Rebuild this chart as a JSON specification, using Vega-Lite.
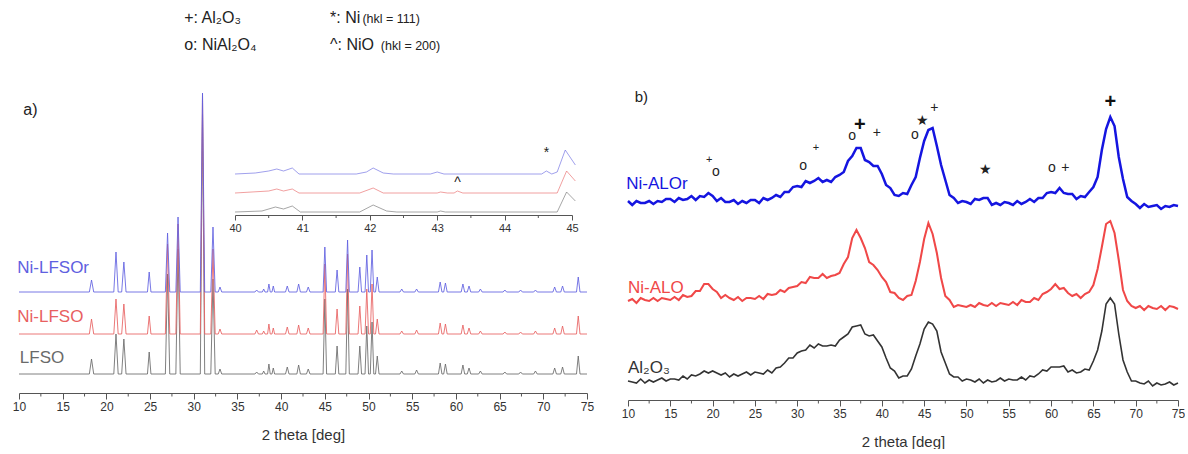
{
"$schema": "https://vega.github.io/schema/vega-lite/v6.json",
"padding": {"left": 12, "top": 5, "right": 0, "bottom": 0},
"bounds": "flush",
"spacing": 41,
"config": {"view": {"stroke": null}, "text": {"font": "Liberation Sans"}, "axis": {"labelFont": "Liberation Sans", "titleFont": "Liberation Sans"}},
"resolve": {"scale": {"color": "independent"}},
"datasets": {
"left": [
{"x":10,"b":101,"r":59,"g":19},{"x":18.05,"b":101,"r":59,"g":19},{"x":18.3,"b":113,"r":74,"g":34},{"x":18.55,"b":101,"r":59,"g":19},
{"x":20.85,"b":101,"r":59,"g":19},{"x":21.1,"b":141,"r":94,"g":59},{"x":21.35,"b":101,"r":59,"g":19},
{"x":21.75,"b":101,"r":59,"g":19},{"x":22,"b":131,"r":89,"g":54},{"x":22.25,"b":101,"r":59,"g":19},
{"x":24.7,"b":101,"r":59,"g":19},{"x":24.9,"b":121,"r":77,"g":41},{"x":25.1,"b":101,"r":59,"g":19},
{"x":26.75,"b":101,"r":59,"g":19},{"x":27,"b":160,"r":149,"g":119},{"x":27.25,"b":101,"r":59,"g":19},
{"x":27.95,"b":101,"r":59,"g":19},{"x":28.2,"b":176,"r":169,"g":144},{"x":28.45,"b":101,"r":59,"g":19},
{"x":30.75,"b":101,"r":59,"g":19},{"x":31,"b":300,"r":299,"g":279},{"x":31.25,"b":101,"r":59,"g":19},
{"x":31.95,"b":101,"r":59,"g":19},{"x":32.2,"b":166,"r":144,"g":114},{"x":32.45,"b":101,"r":59,"g":19},
{"x":32.8,"b":101,"r":59,"g":19},{"x":33,"b":106,"r":64,"g":24},{"x":33.2,"b":101,"r":59,"g":19},
{"x":37,"b":101,"r":59,"g":19},{"x":37.2,"b":103,"r":63,"g":21},{"x":37.4,"b":101,"r":59,"g":19},
{"x":37.85,"b":101,"r":59,"g":19},{"x":38,"b":104,"r":62,"g":22},{"x":38.15,"b":101,"r":59,"g":19},
{"x":38.45,"b":101,"r":59,"g":19},{"x":38.6,"b":109,"r":69,"g":29},{"x":38.75,"b":101,"r":59,"g":19},
{"x":38.95,"b":101,"r":59,"g":19},{"x":39.1,"b":107,"r":65,"g":25},{"x":39.25,"b":101,"r":59,"g":19},
{"x":40.5,"b":101,"r":59,"g":19},{"x":40.7,"b":107,"r":66,"g":26},{"x":40.9,"b":101,"r":59,"g":19},
{"x":41.8,"b":101,"r":59,"g":19},{"x":42,"b":109,"r":68,"g":28},{"x":42.2,"b":101,"r":59,"g":19},
{"x":42.9,"b":101,"r":59,"g":19},{"x":43.1,"b":106,"r":65,"g":24},{"x":43.3,"b":101,"r":59,"g":19},
{"x":44.8,"b":101,"r":59,"g":19},{"x":45,"b":146,"r":129,"g":94},{"x":45.2,"b":101,"r":59,"g":19},
{"x":46.2,"b":101,"r":59,"g":19},{"x":46.4,"b":123,"r":84,"g":47},{"x":46.6,"b":101,"r":59,"g":19},
{"x":47.4,"b":101,"r":59,"g":19},{"x":47.6,"b":153,"r":139,"g":104},{"x":47.8,"b":101,"r":59,"g":19},
{"x":48.8,"b":101,"r":59,"g":19},{"x":49,"b":126,"r":87,"g":47},{"x":49.2,"b":101,"r":59,"g":19},
{"x":49.6,"b":101,"r":59,"g":19},{"x":49.8,"b":138,"r":104,"g":67},{"x":50,"b":101,"r":59,"g":19},
{"x":50.2,"b":101,"r":59,"g":19},{"x":50.4,"b":143,"r":109,"g":71},{"x":50.6,"b":101,"r":59,"g":19},
{"x":50.8,"b":101,"r":59,"g":19},{"x":51,"b":116,"r":74,"g":37},{"x":51.2,"b":101,"r":59,"g":19},
{"x":53.6,"b":101,"r":59,"g":19},{"x":53.8,"b":104,"r":62,"g":22},{"x":54,"b":101,"r":59,"g":19},
{"x":55.3,"b":101,"r":59,"g":19},{"x":55.5,"b":104,"r":63,"g":23},{"x":55.7,"b":101,"r":59,"g":19},
{"x":58,"b":101,"r":59,"g":19},{"x":58.2,"b":111,"r":70,"g":30},{"x":58.4,"b":101,"r":59,"g":19},
{"x":58.6,"b":101,"r":59,"g":19},{"x":58.8,"b":110,"r":69,"g":29},{"x":59,"b":101,"r":59,"g":19},
{"x":60.6,"b":101,"r":59,"g":19},{"x":60.8,"b":109,"r":68,"g":28},{"x":61,"b":101,"r":59,"g":19},
{"x":61.3,"b":101,"r":59,"g":19},{"x":61.5,"b":107,"r":65,"g":25},{"x":61.7,"b":101,"r":59,"g":19},
{"x":62.6,"b":101,"r":59,"g":19},{"x":62.8,"b":104,"r":62,"g":22},{"x":63,"b":101,"r":59,"g":19},
{"x":65.4,"b":101,"r":59,"g":19},{"x":65.6,"b":103,"r":61,"g":21},{"x":65.8,"b":101,"r":59,"g":19},
{"x":67.2,"b":101,"r":59,"g":19},{"x":67.4,"b":103,"r":61,"g":21},{"x":67.6,"b":101,"r":59,"g":19},
{"x":68.9,"b":101,"r":59,"g":19},{"x":69.1,"b":103,"r":62,"g":22},{"x":69.3,"b":101,"r":59,"g":19},
{"x":71.1,"b":101,"r":59,"g":19},{"x":71.3,"b":106,"r":65,"g":25},{"x":71.5,"b":101,"r":59,"g":19},
{"x":72,"b":101,"r":59,"g":19},{"x":72.2,"b":107,"r":67,"g":26},{"x":72.4,"b":101,"r":59,"g":19},
{"x":73.8,"b":101,"r":59,"g":19},{"x":74,"b":116,"r":77,"g":37},{"x":74.2,"b":101,"r":59,"g":19},
{"x":75,"b":101,"r":59,"g":19}
],
"inset": [
{"s":"b","x":40,"y":219},{"s":"b","x":40.3,"y":220},{"s":"b","x":40.5,"y":222},{"s":"b","x":40.62,"y":224},{"s":"b","x":40.72,"y":222},{"s":"b","x":40.85,"y":225},{"s":"b","x":40.95,"y":219},{"s":"b","x":41.8,"y":219},{"s":"b","x":41.95,"y":221},{"s":"b","x":42.05,"y":225},{"s":"b","x":42.2,"y":220},{"s":"b","x":42.35,"y":219},{"s":"b","x":42.9,"y":219},{"s":"b","x":43,"y":221},{"s":"b","x":43.1,"y":219},{"s":"b","x":44.55,"y":219},{"s":"b","x":44.62,"y":222},{"s":"b","x":44.7,"y":219},{"s":"b","x":44.78,"y":221},{"s":"b","x":44.9,"y":243},{"s":"b","x":45.05,"y":228},
{"s":"r","x":40,"y":200},{"s":"r","x":40.5,"y":202},{"s":"r","x":40.62,"y":204},{"s":"r","x":40.72,"y":202},{"s":"r","x":40.85,"y":204},{"s":"r","x":40.95,"y":200},{"s":"r","x":41.85,"y":200},{"s":"r","x":42.05,"y":205},{"s":"r","x":42.2,"y":200},{"s":"r","x":43,"y":200},{"s":"r","x":43.05,"y":201},{"s":"r","x":43.15,"y":200},{"s":"r","x":43.25,"y":200},{"s":"r","x":43.3,"y":202},{"s":"r","x":43.38,"y":200},{"s":"r","x":44.78,"y":200},{"s":"r","x":44.92,"y":222},{"s":"r","x":45.05,"y":212},
{"s":"g","x":40,"y":181},{"s":"g","x":40.4,"y":182},{"s":"g","x":40.6,"y":186},{"s":"g","x":40.72,"y":184},{"s":"g","x":40.85,"y":187},{"s":"g","x":40.97,"y":181},{"s":"g","x":41.85,"y":181},{"s":"g","x":42.05,"y":188},{"s":"g","x":42.25,"y":182},{"s":"g","x":42.4,"y":181},{"s":"g","x":43,"y":181},{"s":"g","x":43.05,"y":182},{"s":"g","x":43.12,"y":181},{"s":"g","x":44.78,"y":181},{"s":"g","x":44.92,"y":201},{"s":"g","x":45.05,"y":192}
],
"insetAnn": [{"x":44.62,"y":240,"t":"*"},{"x":43.3,"y":210,"t":"^"}],
"insetMinor": [{"x":40.5},{"x":41.5},{"x":42.5},{"x":43.5},{"x":44.5}],
"minor": [{"x":12.5},{"x":17.5},{"x":22.5},{"x":27.5},{"x":32.5},{"x":37.5},{"x":42.5},{"x":47.5},{"x":52.5},{"x":57.5},{"x":62.5},{"x":67.5},{"x":72.5}],
"leftLab": [{"x":9.8,"y":125,"t":"Ni-LFSOr","s":"b"},{"x":9.8,"y":76,"t":"Ni-LFSO","s":"r"},{"x":10.1,"y":35,"t":"LFSO","s":"g"}],
"hdr": [{"x":28.9,"y":375,"t":"+: Al₂O₃"},{"x":28.9,"y":348,"t":"o: NiAl₂O₄"},{"x":45.6,"y":375,"t":"*: Ni"},{"x":45.6,"y":348,"t":"^: NiO"},{"x":10.5,"y":283,"t":"a)"}],
"hdrSmall": [{"x":49.3,"y":374,"t":"(hkl = 111)"},{"x":51.4,"y":347,"t":"(hkl = 200)"}],
"right": [
{"x":10,"b":199,"r":99,"g":19},{"x":10.5,"b":195,"r":101,"g":18},{"x":11,"b":199,"r":97,"g":17},{"x":11.5,"b":197,"r":102,"g":21},{"x":12,"b":197,"r":100,"g":17},{"x":12.5,"b":199,"r":99,"g":20},{"x":13,"b":196,"r":102,"g":18},{"x":13.5,"b":199,"r":99,"g":20},{"x":14,"b":198,"r":102,"g":22},{"x":14.5,"b":201,"r":101,"g":19},
{"x":15,"b":201,"r":100,"g":21},{"x":15.5,"b":198,"r":103,"g":21},{"x":16,"b":202,"r":100,"g":20},{"x":16.5,"b":200,"r":105,"g":24},{"x":17,"b":201,"r":103,"g":21},{"x":17.5,"b":204,"r":104,"g":25},{"x":18,"b":200,"r":109,"g":24},{"x":18.5,"b":204,"r":109,"g":26},{"x":19,"b":203,"r":116,"g":29},{"x":19.5,"b":207,"r":116,"g":27},
{"x":20,"b":204,"r":111,"g":29},{"x":20.5,"b":199,"r":108,"g":27},{"x":21,"b":202,"r":102,"g":25},{"x":21.5,"b":198,"r":105,"g":27},{"x":22,"b":198,"r":102,"g":23},{"x":22.5,"b":200,"r":100,"g":26},{"x":23,"b":196,"r":103,"g":24},{"x":23.5,"b":199,"r":99,"g":26},{"x":24,"b":197,"r":102,"g":28},{"x":24.5,"b":200,"r":102,"g":25},
{"x":25,"b":200,"r":101,"g":28},{"x":25.5,"b":197,"r":104,"g":27},{"x":26,"b":202,"r":101,"g":26},{"x":26.5,"b":200,"r":106,"g":30},{"x":27,"b":202,"r":105,"g":27},{"x":27.5,"b":205,"r":106,"g":32},{"x":28,"b":203,"r":110,"g":33},{"x":28.5,"b":208,"r":108,"g":37},{"x":29,"b":208,"r":112,"g":42},{"x":29.5,"b":213,"r":113,"g":42},
{"x":30,"b":214,"r":114,"g":47},{"x":30.5,"b":213,"r":118,"g":49},{"x":31,"b":219,"r":117,"g":50},{"x":31.5,"b":217,"r":123,"g":55},{"x":32,"b":219,"r":122,"g":52},{"x":32.5,"b":222,"r":122,"g":56},{"x":33,"b":218,"r":126,"g":54},{"x":33.5,"b":220,"r":122,"g":54},{"x":34,"b":218,"r":124,"g":55},{"x":34.5,"b":223,"r":125,"g":54},
{"x":35,"b":225,"r":127,"g":60},{"x":35.5,"b":228,"r":136,"g":63},{"x":36,"b":239,"r":143,"g":66},{"x":36.5,"b":244,"r":162,"g":73},{"x":37,"b":252,"r":170,"g":74},{"x":37.5,"b":252,"r":162,"g":75},{"x":38,"b":240,"r":152,"g":66},{"x":38.5,"b":238,"r":138,"g":64},{"x":39,"b":234,"r":135,"g":65},{"x":39.5,"b":234,"r":130,"g":59},
{"x":40,"b":226,"r":123,"g":53},{"x":40.5,"b":215,"r":118,"g":42},{"x":41,"b":212,"r":108,"g":32},{"x":41.5,"b":205,"r":107,"g":29},{"x":42,"b":204,"r":102,"g":22},{"x":42.5,"b":207,"r":100,"g":24},{"x":43,"b":206,"r":104,"g":24},{"x":43.5,"b":215,"r":105,"g":31},{"x":44,"b":223,"r":119,"g":44},{"x":44.5,"b":242,"r":138,"g":56},
{"x":45,"b":259,"r":161,"g":71},{"x":45.5,"b":270,"r":177,"g":78},{"x":46,"b":272,"r":166,"g":76},{"x":46.5,"b":254,"r":147,"g":69},{"x":47,"b":235,"r":122,"g":48},{"x":47.5,"b":220,"r":104,"g":37},{"x":48,"b":205,"r":100,"g":26},{"x":48.5,"b":202,"r":93,"g":23},{"x":49,"b":197,"r":95,"g":23},{"x":49.5,"b":199,"r":94,"g":19},
{"x":50,"b":198,"r":93,"g":21},{"x":50.5,"b":196,"r":95,"g":20},{"x":51,"b":201,"r":93,"g":18},{"x":51.5,"b":200,"r":97,"g":21},{"x":52,"b":202,"r":95,"g":17},{"x":52.5,"b":202,"r":94,"g":20},{"x":53,"b":195,"r":97,"g":18},{"x":53.5,"b":197,"r":94,"g":19},{"x":54,"b":195,"r":97,"g":22},{"x":54.5,"b":198,"r":96,"g":19},
{"x":55,"b":197,"r":95,"g":21},{"x":55.5,"b":195,"r":98,"g":20},{"x":56,"b":199,"r":95,"g":20},{"x":56.5,"b":196,"r":100,"g":23},{"x":57,"b":198,"r":98,"g":20},{"x":57.5,"b":201,"r":98,"g":24},{"x":58,"b":198,"r":102,"g":23},{"x":58.5,"b":202,"r":100,"g":26},{"x":59,"b":202,"r":106,"g":30},{"x":59.5,"b":207,"r":108,"g":29},
{"x":60,"b":208,"r":111,"g":33},{"x":60.5,"b":207,"r":116,"g":33},{"x":61,"b":212,"r":111,"g":33},{"x":61.5,"b":207,"r":112,"g":34},{"x":62,"b":206,"r":107,"g":28},{"x":62.5,"b":206,"r":104,"g":30},{"x":63,"b":201,"r":106,"g":27},{"x":63.5,"b":204,"r":102,"g":28},{"x":64,"b":203,"r":106,"g":31},{"x":64.5,"b":208,"r":108,"g":30},
{"x":65,"b":213,"r":115,"g":39},{"x":65.5,"b":223,"r":131,"g":50},{"x":66,"b":250,"r":153,"g":69},{"x":66.5,"b":271,"r":176,"g":96},{"x":67,"b":283,"r":179,"g":102},{"x":67.5,"b":274,"r":167,"g":96},{"x":68,"b":243,"r":140,"g":66},{"x":68.5,"b":221,"r":110,"g":40},{"x":69,"b":203,"r":99,"g":28},{"x":69.5,"b":199,"r":94,"g":19},
{"x":70,"b":196,"r":92,"g":19},{"x":70.5,"b":192,"r":94,"g":17},{"x":71,"b":196,"r":90,"g":16},{"x":71.5,"b":193,"r":94,"g":19},{"x":72,"b":194,"r":92,"g":14},{"x":72.5,"b":195,"r":91,"g":17},{"x":73,"b":191,"r":94,"g":15},{"x":73.5,"b":194,"r":90,"g":16},{"x":74,"b":193,"r":94,"g":18},{"x":74.5,"b":195,"r":93,"g":15},
{"x":75,"b":194,"r":91,"g":17}
],
"rightLab": [{"x":9.8,"y":216,"t":"Ni-ALOr","s":"b"},{"x":10,"y":112,"t":"Ni-ALO","s":"r"},{"x":10,"y":32,"t":"Al₂O₃","s":"g"}],
"rightHdr": [{"x":10.8,"y":303,"t":"b)"}],
"rann": [
{"x":19.6,"y":240,"t":"+","k":"s"},{"x":20.4,"y":228,"t":"o","k":"n"},
{"x":30.7,"y":234,"t":"o","k":"n"},{"x":32.2,"y":252,"t":"+","k":"s"},
{"x":36.5,"y":264,"t":"o","k":"n"},{"x":37.4,"y":275,"t":"+","k":"b"},{"x":39.4,"y":267,"t":"+","k":"n"},
{"x":43.9,"y":265,"t":"o","k":"n"},{"x":44.75,"y":279,"t":"★","k":"n"},{"x":46.2,"y":292,"t":"+","k":"n"},
{"x":52.2,"y":230,"t":"★","k":"n"},
{"x":60.1,"y":232,"t":"o","k":"n"},{"x":61.7,"y":232,"t":"+","k":"n"},
{"x":67,"y":298,"t":"+","k":"b"}
]
},
"hconcat": [
{
"width": 568, "height": 388,
"resolve": {"scale": {"x": "independent"}},
"layer": [
{
"layer": [
{
"data": {"name": "left"},
"transform": [{"fold": ["g", "r", "b"], "as": ["s", "y"]}],
"mark": {"type": "line", "strokeWidth": 1, "opacity": 0.85},
"encoding": {
"x": {"field": "x", "type": "quantitative", "scale": {"domain": [10, 75], "nice": false, "zero": false},
"axis": {"values": [10,15,20,25,30,35,40,45,50,55,60,65,70,75], "tickSize": 6,
"grid": false, "domainColor": "#555", "tickColor": "#555", "labelColor": "#333", "labelFontSize": 12, "labelPadding": 2, "labelFlush": false,
"title": "2 theta [deg]", "titleFontSize": 15, "titleFontWeight": "normal", "titleColor": "#333", "titlePadding": 15}},
"y": {"field": "y", "type": "quantitative", "scale": {"domain": [0, 388], "nice": false, "zero": false}, "axis": null},
"color": {"field": "s", "type": "nominal", "scale": {"domain": ["b", "r", "g"], "range": ["#6060e0", "#e86060", "#6a6a6a"]}, "legend": null}
}
},
{
"data": {"name": "minor"},
"mark": {"type": "rule", "color": "#555", "strokeWidth": 1},
"encoding": {
"x": {"field": "x", "type": "quantitative", "scale": {"domain": [10, 75], "nice": false, "zero": false}},
"y": {"datum": 0, "type": "quantitative", "scale": {"domain": [0, 388], "nice": false, "zero": false}, "axis": null},
"y2": {"datum": -3.5}
}
},
{
"data": {"name": "leftLab"},
"mark": {"type": "text", "align": "left", "baseline": "middle", "fontSize": 17},
"encoding": {
"x": {"field": "x", "type": "quantitative", "scale": {"domain": [10, 75], "nice": false, "zero": false}},
"y": {"field": "y", "type": "quantitative", "scale": {"domain": [0, 388], "nice": false, "zero": false}, "axis": null},
"text": {"field": "t"},
"color": {"field": "s", "type": "nominal", "scale": {"domain": ["b", "r", "g"], "range": ["#6060e0", "#e86060", "#6a6a6a"]}, "legend": null}
}
},
{
"data": {"name": "hdr"},
"mark": {"type": "text", "align": "left", "baseline": "middle", "fontSize": 16, "color": "#222"},
"encoding": {
"x": {"field": "x", "type": "quantitative", "scale": {"domain": [10, 75], "nice": false, "zero": false}},
"y": {"field": "y", "type": "quantitative", "scale": {"domain": [0, 388], "nice": false, "zero": false}, "axis": null},
"text": {"field": "t"}
}
},
{
"data": {"name": "hdrSmall"},
"mark": {"type": "text", "align": "left", "baseline": "middle", "fontSize": 12.5, "color": "#222"},
"encoding": {
"x": {"field": "x", "type": "quantitative", "scale": {"domain": [10, 75], "nice": false, "zero": false}},
"y": {"field": "y", "type": "quantitative", "scale": {"domain": [0, 388], "nice": false, "zero": false}, "axis": null},
"text": {"field": "t"}
}
}
]
},
{
"layer": [
{
"data": {"name": "inset"},
"mark": {"type": "line", "strokeWidth": 1, "opacity": 0.6},
"encoding": {
"x": {"field": "x", "type": "quantitative", "scale": {"domain": [40, 45], "range": [216, 553], "nice": false, "zero": false},
"axis": {"orient": "bottom", "offset": -178, "values": [40,41,42,43,44,45], "format": "d", "tickSize": 5,
"grid": false, "domainColor": "#555", "tickColor": "#555", "labelColor": "#333", "labelFontSize": 11, "labelPadding": 2, "labelFlush": false, "title": null}},
"y": {"field": "y", "type": "quantitative", "scale": {"domain": [0, 388], "nice": false, "zero": false}, "axis": null},
"color": {"field": "s", "type": "nominal", "scale": {"domain": ["b", "r", "g"], "range": ["#6060e0", "#e86060", "#6a6a6a"]}, "legend": null}
}
},
{
"data": {"name": "insetMinor"},
"mark": {"type": "rule", "color": "#555", "strokeWidth": 1},
"encoding": {
"x": {"field": "x", "type": "quantitative", "scale": {"domain": [40, 45], "range": [216, 553], "nice": false, "zero": false}},
"y": {"datum": 178, "type": "quantitative", "scale": {"domain": [0, 388], "nice": false, "zero": false}, "axis": null},
"y2": {"datum": 175}
}
},
{
"data": {"name": "insetAnn"},
"mark": {"type": "text", "align": "center", "baseline": "middle", "fontSize": 14, "color": "#222"},
"encoding": {
"x": {"field": "x", "type": "quantitative", "scale": {"domain": [40, 45], "range": [216, 553], "nice": false, "zero": false}},
"y": {"field": "y", "type": "quantitative", "scale": {"domain": [0, 388], "nice": false, "zero": false}, "axis": null},
"text": {"field": "t"}
}
}
]
}
]
},
{
"width": 550, "height": 395,
"layer": [
{
"data": {"name": "right"},
"transform": [{"fold": ["g", "r", "b"], "as": ["s", "y"]}],
"mark": {"type": "line"},
"encoding": {
"x": {"field": "x", "type": "quantitative", "scale": {"domain": [10, 75], "nice": false, "zero": false},
"axis": {"values": [10,15,20,25,30,35,40,45,50,55,60,65,70,75], "tickSize": 6,
"grid": false, "domainColor": "#555", "tickColor": "#555", "labelColor": "#333", "labelFontSize": 12, "labelPadding": 2, "labelFlush": false,
"title": "2 theta [deg]", "titleFontSize": 15, "titleFontWeight": "normal", "titleColor": "#333", "titlePadding": 15}},
"y": {"field": "y", "type": "quantitative", "scale": {"domain": [0, 395], "nice": false, "zero": false}, "axis": null},
"color": {"field": "s", "type": "nominal", "scale": {"domain": ["b", "r", "g"], "range": ["#1515e0", "#f04848", "#333333"]}, "legend": null},
"strokeWidth": {"field": "s", "type": "nominal", "scale": {"domain": ["b", "r", "g"], "range": [2.5, 1.6, 1.6]}, "legend": null}
}
},
{
"data": {"name": "minor"},
"mark": {"type": "rule", "color": "#555", "strokeWidth": 1},
"encoding": {
"x": {"field": "x", "type": "quantitative", "scale": {"domain": [10, 75], "nice": false, "zero": false}},
"y": {"datum": 0, "type": "quantitative", "scale": {"domain": [0, 395], "nice": false, "zero": false}, "axis": null},
"y2": {"datum": -3.5}
}
},
{
"data": {"name": "rightLab"},
"mark": {"type": "text", "align": "left", "baseline": "middle", "fontSize": 17},
"encoding": {
"x": {"field": "x", "type": "quantitative", "scale": {"domain": [10, 75], "nice": false, "zero": false}},
"y": {"field": "y", "type": "quantitative", "scale": {"domain": [0, 395], "nice": false, "zero": false}, "axis": null},
"text": {"field": "t"},
"color": {"field": "s", "type": "nominal", "scale": {"domain": ["b", "r", "g"], "range": ["#2a2ad8", "#f04848", "#333333"]}, "legend": null}
}
},
{
"data": {"name": "rightHdr"},
"mark": {"type": "text", "align": "left", "baseline": "middle", "fontSize": 15, "color": "#222"},
"encoding": {
"x": {"field": "x", "type": "quantitative", "scale": {"domain": [10, 75], "nice": false, "zero": false}},
"y": {"field": "y", "type": "quantitative", "scale": {"domain": [0, 395], "nice": false, "zero": false}, "axis": null},
"text": {"field": "t"}
}
},
{
"data": {"name": "rann"},
"transform": [{"filter": "datum.k === 'n'"}],
"mark": {"type": "text", "align": "center", "baseline": "middle", "fontSize": 14, "color": "#222"},
"encoding": {
"x": {"field": "x", "type": "quantitative", "scale": {"domain": [10, 75], "nice": false, "zero": false}},
"y": {"field": "y", "type": "quantitative", "scale": {"domain": [0, 395], "nice": false, "zero": false}, "axis": null},
"text": {"field": "t"}
}
},
{
"data": {"name": "rann"},
"transform": [{"filter": "datum.k === 's'"}],
"mark": {"type": "text", "align": "center", "baseline": "middle", "fontSize": 11, "color": "#222"},
"encoding": {
"x": {"field": "x", "type": "quantitative", "scale": {"domain": [10, 75], "nice": false, "zero": false}},
"y": {"field": "y", "type": "quantitative", "scale": {"domain": [0, 395], "nice": false, "zero": false}, "axis": null},
"text": {"field": "t"}
}
},
{
"data": {"name": "rann"},
"transform": [{"filter": "datum.k === 'b'"}],
"mark": {"type": "text", "align": "center", "baseline": "middle", "fontSize": 20, "fontWeight": "bold", "color": "#111"},
"encoding": {
"x": {"field": "x", "type": "quantitative", "scale": {"domain": [10, 75], "nice": false, "zero": false}},
"y": {"field": "y", "type": "quantitative", "scale": {"domain": [0, 395], "nice": false, "zero": false}, "axis": null},
"text": {"field": "t"}
}
}
]
}
]
}
